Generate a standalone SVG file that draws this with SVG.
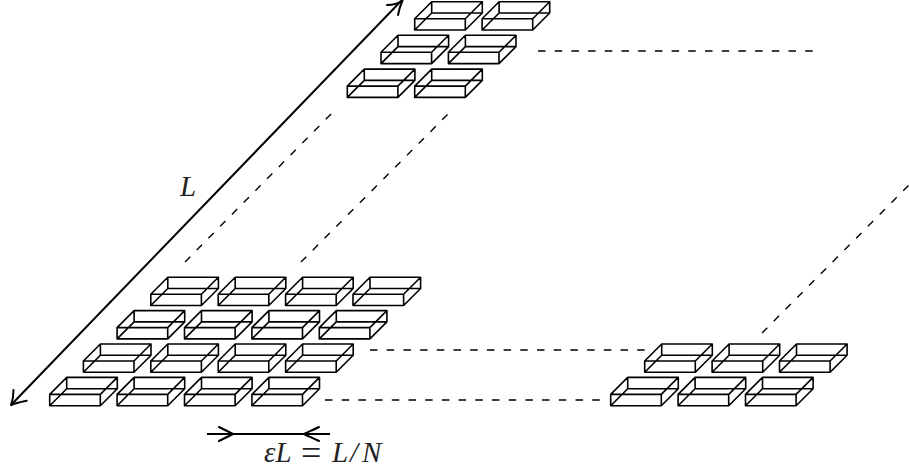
<svg xmlns="http://www.w3.org/2000/svg" width="909" height="473" viewBox="0 0 909 473">
<style>
.b{fill:none;stroke:#000;stroke-width:1.6;stroke-linejoin:round}
.d{fill:none;stroke:#000;stroke-width:1.4;stroke-dasharray:7.5 9.2}
.a{fill:none;stroke:#000;stroke-width:2}
.h{fill:none;stroke:#000;stroke-width:2;stroke-linecap:round;stroke-linejoin:round}
text{font-family:"Liberation Serif",serif;font-size:29px;font-style:italic;fill:#222}
.u{font-style:normal;font-size:36px}
</style>
<defs>
<path id="box" class="b" d="M0 0H50.6V-11.3H0ZM17 -17H67.6V-28.3H17ZM0 0L17 -17M0 -11.3L17 -28.3M50.6 0L67.6 -17M50.6 -11.3L67.6 -28.3"/>
</defs>
<rect width="909" height="473" fill="#fff"/>
<g id="connectors">
<path class="a" d="M11 405L402 0"/>
<path class="h" d="M13.5 390C13.5 396 12.5 401 11 405C15 403 20 402 26.7 400.7"/>
<path class="h" d="M387 5C393 5 398 4 402.5 0.5C400.5 5 399 10 398 15"/>
<path class="a" d="M207 434H330"/>
<path class="h" d="M219 427C225 430 229 432 233 434C229 436 225 438 219 441"/>
<path class="h" d="M319 427C313 430 308 432 304 434C308 436 313 438 319 441"/>
<path class="d" d="M325 400H605"/>
<path class="d" d="M370 350H645"/>
<path class="d" d="M538 51H815"/>
<path class="d" d="M185 262L333.5 111.5"/>
<path class="d" d="M301 262L451 111"/>
<path class="d" d="M762 333L909 185"/>
</g>
<g id="n1"><use href="#box" x="49.7" y="405.7"/></g>
<g id="n2"><use href="#box" x="117.1" y="405.7"/></g>
<g id="n3"><use href="#box" x="184.5" y="405.7"/></g>
<g id="n4"><use href="#box" x="251.9" y="405.7"/></g>
<g id="n5"><use href="#box" x="83.4" y="372.3"/></g>
<g id="n6"><use href="#box" x="150.8" y="372.3"/></g>
<g id="n7"><use href="#box" x="218.2" y="372.3"/></g>
<g id="n8"><use href="#box" x="285.6" y="372.3"/></g>
<g id="n9"><use href="#box" x="117.1" y="338.9"/></g>
<g id="n10"><use href="#box" x="184.5" y="338.9"/></g>
<g id="n11"><use href="#box" x="251.9" y="338.9"/></g>
<g id="n12"><use href="#box" x="319.3" y="338.9"/></g>
<g id="n13"><use href="#box" x="150.8" y="305.5"/></g>
<g id="n14"><use href="#box" x="218.2" y="305.5"/></g>
<g id="n15"><use href="#box" x="285.6" y="305.5"/></g>
<g id="n16"><use href="#box" x="353" y="305.5"/></g>
<g id="n17"><use href="#box" x="610.7" y="405.7"/></g>
<g id="n18"><use href="#box" x="678.1" y="405.7"/></g>
<g id="n19"><use href="#box" x="745.5" y="405.7"/></g>
<g id="n20"><use href="#box" x="644.7" y="372.3"/></g>
<g id="n21"><use href="#box" x="712.1" y="372.3"/></g>
<g id="n22"><use href="#box" x="779.5" y="372.3"/></g>
<g id="n23"><use href="#box" x="347.3" y="97.4"/></g>
<g id="n24"><use href="#box" x="414.7" y="97.4"/></g>
<g id="n25"><use href="#box" x="381" y="63.6"/></g>
<g id="n26"><use href="#box" x="448.4" y="63.6"/></g>
<g id="n27"><use href="#box" x="414.7" y="30"/></g>
<g id="n28"><use href="#box" x="482.1" y="30"/></g>
<text id="L" x="180" y="196">L</text>
<text id="eps" x="264" y="462">εL <tspan class="u" x="301" y="465">=</tspan> <tspan x="332 350 362" y="462">L/N</tspan></text>
</svg>
